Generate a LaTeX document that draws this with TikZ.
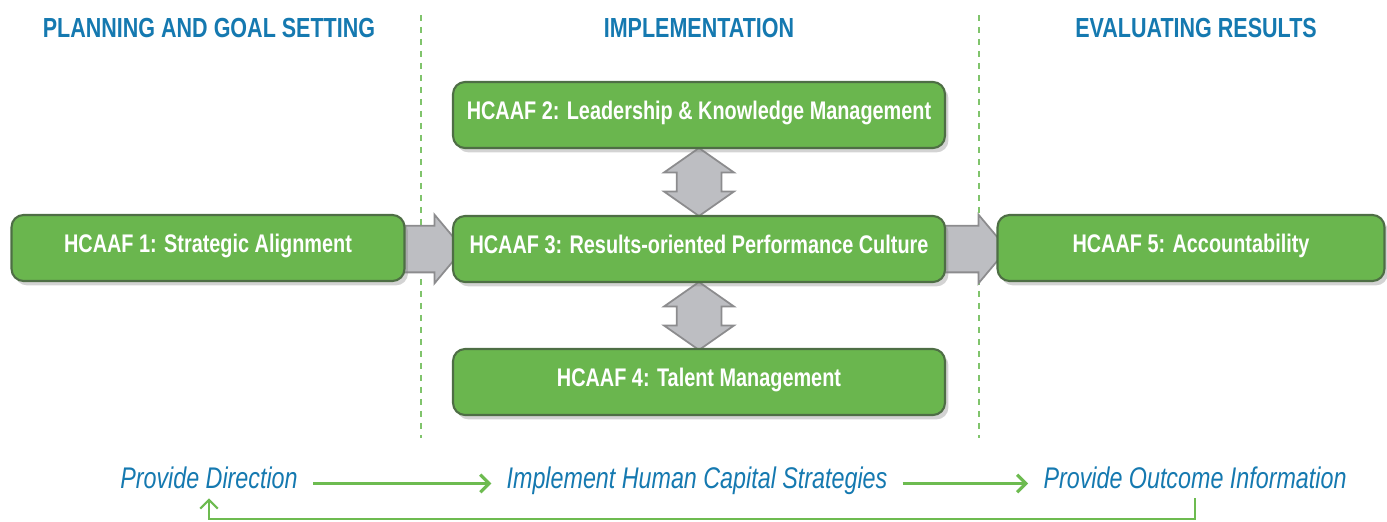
\documentclass[tikz,border=0pt]{standalone}
\usepackage{fontspec}
\usepackage{tikz}
\usetikzlibrary{shapes.arrows,shadows,arrows.meta}
\newfontfamily\condfont[FakeStretch=0.78]{Liberation Sans}
\definecolor{hcgreen}{HTML}{6AB64E}
\definecolor{hcedge}{HTML}{4E6E45}
\definecolor{hcblue}{HTML}{1579B0}
\definecolor{hcgray}{HTML}{BDBEC2}
\definecolor{hcgrayedge}{HTML}{8C8C8E}
\definecolor{hcline}{HTML}{6DBB50}
\definecolor{hcdash}{HTML}{80C46C}

\begin{document}
\begin{tikzpicture}[x=0.02cm, y=-0.02cm, >={Straight Barb[length=5pt,width=10pt]},
     hcbox/.style = {draw=hcedge, fill=hcgreen, line width=1.2pt,
     rounded corners=0.24cm, minimum height=1.32cm, text=white,
     font=\condfont\bfseries\fontsize{14.5}{16}\selectfont,
     text height=1.5ex, text depth=.3ex,
     drop shadow={shadow xshift=2pt, shadow yshift=-2.5pt, opacity=0.35}},
     phase/.style = {text=hcblue, anchor=base,
     font=\condfont\bfseries\fontsize{15.7}{18}\selectfont},
     stage/.style = {text=hcblue, anchor=base, inner xsep=0.3cm, inner ysep=0.2cm,
     text height=1.2ex, text depth=0pt,
     font=\condfont\itshape\fontsize{17}{20}\selectfont},
     fatright/.style = {single arrow, draw=hcgrayedge, fill=hcgray, line width=1pt,
     single arrow head extend=0.22cm, single arrow tip angle=100,
     text height=0.9cm, text depth=0pt, text width=0pt, inner sep=0pt},
     fatboth/.style = {double arrow, draw=hcgrayedge, fill=hcgray, line width=1pt,
     double arrow head extend=0.25cm, double arrow tip angle=110,
     text height=0.86cm, text depth=0pt, text width=0pt, inner sep=0pt,
     rotate=90}]
        \useasboundingbox (0,0) rectangle (1387,521);
        % phase dividers
        \draw [hcdash, line width=1.2pt, dash pattern=on 0.12cm off 0.12cm]
            (421,15) -- (421,438);
        \draw [hcdash, line width=1.2pt, dash pattern=on 0.12cm off 0.12cm]
            (979,15) -- (979,438);
        % phase titles
        \node [phase] at (209,37)  (plan) {PLANNING AND GOAL SETTING};
        \node [phase] at (699,37)  (impl) {IMPLEMENTATION};
        \node [phase] at (1196,37) (eval) {EVALUATING RESULTS};
        % fat arrows behind the boxes
        \node [fatright, minimum height=1.3cm] at (421,249) (a13) {};
        \node [fatright, minimum height=1.3cm] at (965,249) (a35) {};
        \node [fatboth, minimum height=1.36cm] at (699,182) (a23) {};
        \node [fatboth, minimum height=1.36cm] at (699,316) (a34) {};
        % framework boxes
        \node [hcbox, minimum width=7.86cm] at (208,248) (s1)
            {HCAAF 1: Strategic Alignment};
        \node [hcbox, minimum width=9.84cm] at (699,115) (s2)
            {HCAAF 2: Leadership \& Knowledge Management};
        \node [hcbox, minimum width=9.84cm] at (699,249) (s3)
            {HCAAF 3: Results-oriented Performance Culture};
        \node [hcbox, minimum width=9.84cm] at (699,382) (s4)
            {HCAAF 4: Talent Management};
        \node [hcbox, minimum width=7.74cm] at (1191,248) (s5)
            {HCAAF 5: Accountability};
        % cycle along the bottom
        \node [stage] at (209,488)  (dir)  {Provide Direction};
        \node [stage] at (697,488)  (strat) {Implement Human Capital Strategies};
        \node [stage] at (1195,488) (outc) {Provide Outcome Information};
        \coordinate (fb) at (0,519);
        \draw [->, hcline, line width=1.8pt] (dir.east) -- (strat.west);
        \draw [->, hcline, line width=1.8pt] (strat.east) -- (outc.west);
        \draw [->, hcline, line width=1.2pt] (outc.south) |- (fb -| dir.south)
            -- (dir.south);
\end{tikzpicture}
\end{document}
